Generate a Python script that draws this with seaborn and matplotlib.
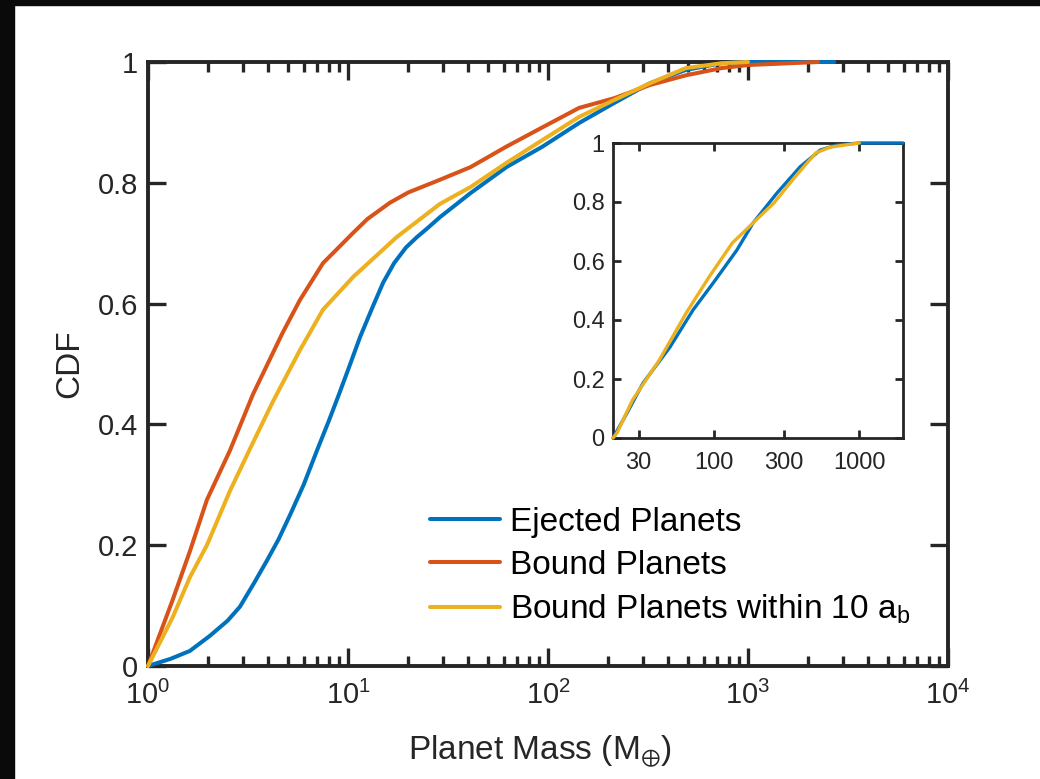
import numpy as np
import pandas as pd
import matplotlib
matplotlib.use("Agg")
import matplotlib.pyplot as plt
from matplotlib.patches import Rectangle
from matplotlib.ticker import LogLocator, FixedLocator, FixedFormatter, FuncFormatter, NullLocator
import seaborn as sns

# ---- empirical CDFs of planet mass (Earth masses) ----
ejected_mass = [1.0, 1.3, 1.62, 2.04, 2.5, 2.88, 3.4, 3.94, 4.5, 5.13, 6.0, 7.0, 8.0, 8.9,
                10.0, 11.5, 13.3, 15.0, 17.0, 19.5, 22.1, 25, 28.8, 41, 62, 94, 143, 214,
                324, 490, 740, 1000, 2700]
ejected_cdf = [0, 0.012, 0.025, 0.05, 0.075, 0.098, 0.138, 0.175, 0.21, 0.25, 0.3, 0.357,
               0.405, 0.445, 0.49, 0.545, 0.595, 0.635, 0.667, 0.693, 0.71, 0.725, 0.743,
               0.783, 0.826, 0.86, 0.899, 0.932, 0.965, 0.987, 0.998, 1.0, 1.0]

bound_mass = [1.0, 1.33, 1.62, 1.97, 2.57, 3.35, 4.7, 5.75, 7.5, 10.6, 12.5, 16.2, 20,
              28.8, 41, 62, 94, 143, 214, 324, 490, 740, 1000, 2240]
bound_cdf = [0, 0.11, 0.19, 0.275, 0.357, 0.45, 0.551, 0.606, 0.667, 0.717, 0.74, 0.767,
             0.784, 0.805, 0.826, 0.86, 0.892, 0.924, 0.94, 0.962, 0.978, 0.99, 0.995, 1.0]

near_mass = [1.0, 1.33, 1.62, 1.97, 2.57, 3.24, 4.2, 5.75, 7.5, 10.6, 17.5, 28.8,
             41, 62, 94, 143, 214, 324, 490, 740, 1000]
near_cdf = [0, 0.081, 0.147, 0.2, 0.29, 0.36, 0.437, 0.523, 0.59, 0.644, 0.71, 0.765,
            0.793, 0.833, 0.871, 0.909, 0.937, 0.965, 0.99, 0.998, 1.0]

# inset: CDFs restricted to the giant-planet range
inset_ejected_mass = [20, 25, 32.2, 49.4, 71.3, 98, 143, 185, 270, 390, 537, 700, 1000, 2000]
inset_ejected_cdf = [0, 0.085, 0.186, 0.308, 0.434, 0.525, 0.637, 0.729, 0.83, 0.919,
                     0.976, 0.993, 1.0, 1.0]
inset_near_mass = [20, 21.3, 27.3, 41.7, 64, 92, 133, 185, 258, 360, 500, 630, 1000]
inset_near_cdf = [0, 0.017, 0.129, 0.264, 0.424, 0.546, 0.661, 0.729, 0.797, 0.885,
                  0.966, 0.986, 1.0]

labels = ["Ejected Planets", "Bound Planets", r"Bound Planets within 10 $\mathregular{a_b}$"]
colors = ["#0072BD", "#D95319", "#EDB120"]

main_xticks = [1, 10, 100, 1000, 10000]
y_ticks = [0, 0.2, 0.4, 0.6, 0.8, 1.0]
inset_xticks = [30, 100, 300, 1000]
inset_xticklabels = ["30", "100", "300", "1000"]

# ---- style ----
sns.set_style("ticks")
plt.rcParams["font.family"] = ["Liberation Sans", "DejaVu Sans"]
plt.rcParams["mathtext.fontset"] = "custom"
plt.rcParams["mathtext.rm"] = "Liberation Sans"
plt.rcParams["mathtext.it"] = "Liberation Sans"
plt.rcParams["mathtext.bf"] = "Liberation Sans:bold"
plt.rcParams["mathtext.default"] = "regular"

axis_color = "#262626"

fig = plt.figure(figsize=(10.4, 7.79), dpi=100)
fig.patch.set_facecolor("white")

ax = fig.add_axes([148 / 1040, 1 - 666 / 779, 800 / 1040, 604 / 779])

series = [(ejected_mass, ejected_cdf), (bound_mass, bound_cdf), (near_mass, near_cdf)]
for (m, c), lab, col in zip(series, labels, colors):
    df = pd.DataFrame({"mass": m, "cdf": c})
    sns.lineplot(data=df, x="mass", y="cdf", ax=ax, color=col, lw=2.9, label=lab,
                 sort=False, estimator=None, clip_on=False, zorder=3)

ax.set_xscale("log")
ax.set_xlim(1, 1e4)
ax.set_ylim(0, 1)
ax.xaxis.set_major_locator(FixedLocator(main_xticks))
ax.xaxis.set_minor_locator(LogLocator(base=10, subs=np.arange(2, 10)))
ax.yaxis.set_major_locator(FixedLocator(y_ticks))
ax.yaxis.set_major_formatter(FuncFormatter(lambda v, p: f"{v:g}"))

for s in ax.spines.values():
    s.set_linewidth(2.8)
    s.set_color(axis_color)
ax.tick_params(which="both", direction="in", top=True, right=True, color=axis_color,
               labelcolor=axis_color, width=2.4)
ax.tick_params(which="major", length=13, labelsize=21)
ax.tick_params(which="minor", length=7)
ax.tick_params(axis="x", which="major", pad=11)
ax.tick_params(axis="y", which="major", pad=7)

ax.set_xlabel(r"Planet Mass (M$_{\oplus}$)", fontsize=24, color=axis_color)
ax.set_ylabel("CDF", fontsize=24, color=axis_color)
ax.xaxis.set_label_coords(0.49, -0.112)
ax.yaxis.set_label_coords(-0.079, 0.5)

leg = ax.legend(loc="center left", bbox_to_anchor=(0.352, 0.165), frameon=False,
                fontsize=24, handlelength=2.1, handletextpad=0.3, labelspacing=0.36,
                borderpad=0, borderaxespad=0)
for t in leg.get_texts():
    t.set_color("black")
for h in leg.get_lines():
    h.set_linewidth(2.9)

# ---- inset ----
axi = fig.add_axes([613 / 1040, 1 - 438 / 779, 290 / 1040, 295 / 779])
inset_series = [(inset_ejected_mass, inset_ejected_cdf, colors[0]),
                (inset_near_mass, inset_near_cdf, colors[2])]
for m, c, col in inset_series:
    df = pd.DataFrame({"mass": m, "cdf": c})
    sns.lineplot(data=df, x="mass", y="cdf", ax=axi, color=col, lw=2.4,
                 sort=False, estimator=None, clip_on=False, zorder=3, legend=False)

axi.set_xscale("log")
axi.set_xlim(20, 2000)
axi.set_ylim(0, 1)
axi.xaxis.set_major_locator(FixedLocator(inset_xticks))
axi.xaxis.set_major_formatter(FixedFormatter(inset_xticklabels))
axi.xaxis.set_minor_locator(NullLocator())
axi.yaxis.set_major_locator(FixedLocator(y_ticks))
axi.yaxis.set_major_formatter(FuncFormatter(lambda v, p: f"{v:g}"))
for s in axi.spines.values():
    s.set_linewidth(2.0)
    s.set_color(axis_color)
axi.tick_params(which="both", direction="in", top=True, right=True, color=axis_color,
                labelcolor=axis_color, width=2.0, length=6, labelsize=17)
axi.tick_params(axis="x", pad=10)
axi.tick_params(axis="y", pad=6)
axi.set_xlabel("")
axi.set_ylabel("")

# dark frame along the left and top edges
fig.add_artist(Rectangle((0, 0), 14 / 1040, 1, transform=fig.transFigure,
                         color="#0a0a0a", zorder=10))
fig.add_artist(Rectangle((0, 1 - 5 / 779), 1, 5 / 779, transform=fig.transFigure,
                         color="#0a0a0a", zorder=10))

fig.savefig("out.png", dpi=100, facecolor="white")
